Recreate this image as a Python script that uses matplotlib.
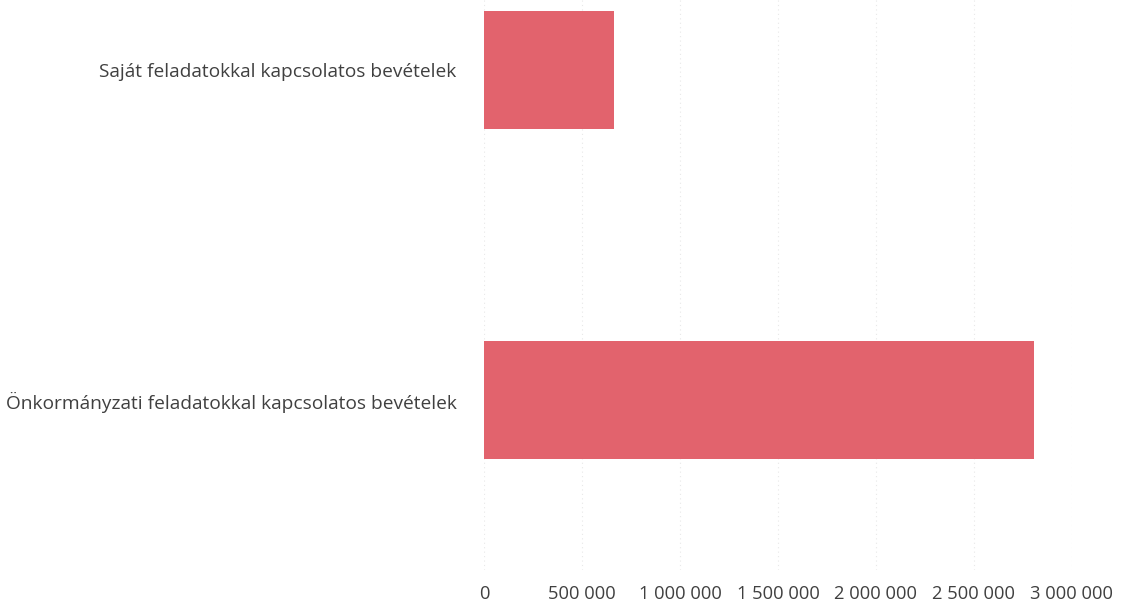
import matplotlib.pyplot as plt
from matplotlib.ticker import FuncFormatter

# adatok
kategoriak = ["Önkormányzati feladatokkal kapcsolatos bevételek",
              "Saját feladatokkal kapcsolatos bevételek"]
ertekek = [2810000, 660000]
xtickek = [0, 500000, 1000000, 1500000, 2000000, 2500000, 3000000]

plt.rcParams['font.family'] = ['Open Sans', 'DejaVu Sans']

fig = plt.figure(figsize=(11.21, 6.06), dpi=100)
ax = fig.add_axes([0.432, 0.0594, 0.524, 0.9406])

ax.barh(range(len(kategoriak)), ertekek, height=0.355, color="#e2636d")

ax.set_xlim(0, 3000000)
ax.set_ylim(-0.515, 1.212)
ax.set_xticks(xtickek)
ax.xaxis.set_major_formatter(FuncFormatter(lambda v, p: f"{int(v):,}".replace(",", " ")))
ax.set_yticks(range(len(kategoriak)))
ax.set_yticklabels(kategoriak)

ax.grid(axis="x", color="#e8e8e8", linestyle=(0, (1, 3)), linewidth=0.8)
ax.set_axisbelow(True)
for s in ax.spines.values():
    s.set_visible(False)
ax.tick_params(axis="y", length=0, labelsize=13.8, colors="#404040", pad=20)
ax.tick_params(axis="x", length=0, labelsize=13.2, colors="#404040", pad=11)

fig.savefig("out.png", dpi=100)
